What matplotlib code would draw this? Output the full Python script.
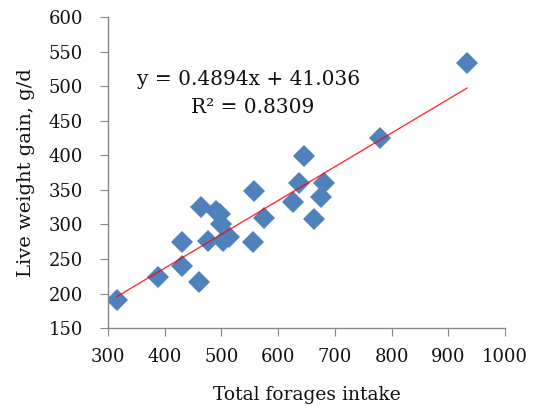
import matplotlib
matplotlib.use('Agg')
import matplotlib.pyplot as plt
import numpy as np

# forage intake vs live weight gain
intake = [316, 388, 431, 431, 461, 464, 476, 490, 497, 500, 502, 513,
          558, 556, 575, 626, 637, 645, 663, 676, 680, 780, 933]
gain = [191, 224, 275, 240, 217, 326, 276, 320, 315, 300, 276, 282,
        349, 275, 309, 333, 360, 399, 308, 340, 360, 426, 534]

slope = 0.4894
intercept = 41.036
r2 = 0.8309

plt.rcParams['font.family'] = ['DejaVu Serif']

fig = plt.figure(figsize=(5.38, 4.15), dpi=100)
ax = fig.add_axes([0.2007, 0.2096, 0.7380, 0.7484])

ax.plot(intake, gain, 'D', color='#4F81BD', markersize=11.5, markeredgewidth=0, zorder=2)

xs = np.array([min(intake), max(intake)])
ax.plot(xs, slope * xs + intercept, color='#FF0000', linewidth=1, alpha=0.8, zorder=3)

ax.set_xlim(300, 1000)
ax.set_ylim(150, 600)
ax.set_xticks(range(300, 1001, 100))
ax.set_yticks(range(150, 601, 50))

for side in ['top', 'right']:
    ax.spines[side].set_visible(False)
for side in ['left', 'bottom']:
    ax.spines[side].set_color('#868686')
    ax.spines[side].set_linewidth(1)
ax.tick_params(axis='both', direction='out', length=6, color='#868686',
               labelsize=13, labelcolor='#111111')
ax.tick_params(axis='x', pad=8.5)
ax.tick_params(axis='y', pad=12)

ax.set_xlabel('Total forages intake', fontsize=13.5, color='#111111')
ax.set_ylabel('Live weight gain, g/d', fontsize=14, color='#111111')
ax.xaxis.set_label_coords(0.501, -0.216)
ax.yaxis.set_label_coords(-0.207, 0.5)
ax.xaxis.label.set_va('center')
ax.yaxis.label.set_va('center')

ax.text(0.355, 0.799, 'y = %.4fx + %.3f' % (slope, intercept), transform=ax.transAxes,
        ha='center', va='center', fontsize=14.5, color='#111111')
ax.text(0.364, 0.709, 'R² = %.4f' % r2, transform=ax.transAxes,
        ha='center', va='center', fontsize=14.5, color='#111111')

fig.savefig('out.png', dpi=100)
